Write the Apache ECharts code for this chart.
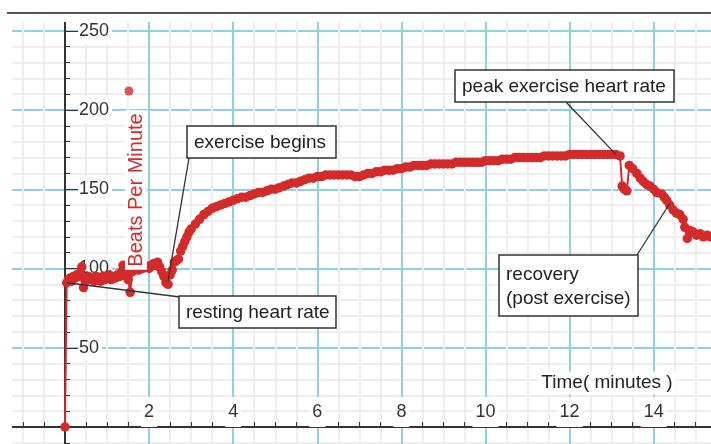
<!DOCTYPE html>
<html><head><meta charset="utf-8">
<script src="https://cdn.jsdelivr.net/npm/echarts@6/dist/echarts.min.js"></script>
<style>html,body{margin:0;padding:0;background:#fff}#c{width:711px;height:444px}</style>
</head><body><div id="c"></div>
<script>
// ---- data (time in minutes, heart rate in beats per minute) ----
const timeMin = [
  0, 0.04, 0.08, 0.12, 0.16, 0.2, 0.24, 0.28, 0.32, 0.36, 0.4, 0.44, 0.48, 0.52, 0.56, 0.6,
  0.65, 0.7, 0.75, 0.8, 0.85, 0.9, 0.95, 1.0, 1.05, 1.1, 1.15, 1.2, 1.25, 1.3, 1.35, 1.38,
  1.42, 1.46, 1.5, 1.55, 1.6, 1.65, 1.7, 1.75, 1.8, 1.85, 1.9, 1.95, 2.0, 2.05, 2.1, 2.15,
  2.2, 2.25, 2.3, 2.35, 2.4, 2.45, 2.5, 2.55, 2.6, 2.65, 2.7, 2.75, 2.8, 2.85, 2.9, 2.95,
  3.0, 3.1, 3.2, 3.3, 3.4, 3.5, 3.6, 3.7, 3.8, 3.9, 4.0, 4.1, 4.2, 4.3, 4.4, 4.5, 4.6, 4.7,
  4.8, 4.9, 5.0, 5.1, 5.2, 5.3, 5.4, 5.5, 5.6, 5.7, 5.8, 5.9, 6.0, 6.1, 6.2, 6.3, 6.4, 6.5,
  6.6, 6.7, 6.8, 6.9, 7.0, 7.1, 7.2, 7.3, 7.4, 7.5, 7.6, 7.7, 7.8, 7.9, 8.0, 8.1, 8.2, 8.3,
  8.4, 8.5, 8.6, 8.7, 8.8, 8.9, 9.0, 9.1, 9.2, 9.3, 9.4, 9.5, 9.6, 9.7, 9.8, 9.9, 10.0, 10.1,
  10.2, 10.3, 10.4, 10.5, 10.6, 10.7, 10.8, 10.9, 11.0, 11.1, 11.2, 11.3, 11.4, 11.5, 11.6,
  11.7, 11.8, 11.9, 12.0, 12.1, 12.2, 12.3, 12.4, 12.5, 12.6, 12.7, 12.8, 12.9, 13.0, 13.1,
  13.2, 13.25, 13.3, 13.36, 13.42, 13.5, 13.6, 13.68, 13.75, 13.83, 13.91, 14.0, 14.07,
  14.19, 14.25, 14.31, 14.38, 14.46, 14.54, 14.62, 14.7, 14.74, 14.8, 14.86, 14.94, 15.02,
  15.1, 15.18, 15.27, 15.35
];
const bpm = [
  0, 91, 93, 94, 92, 95, 94, 96, 95, 97, 101, 88, 92, 93, 95, 93,
  94, 92, 95, 94, 92, 95, 93, 94, 96, 93, 95, 94, 96, 95, 98, 102,
  97, 95, 93, 85, 98, 99, 100, 99, 101, 100, 102, 101, 100, 102, 103, 102,
  104, 101, 98, 95, 91, 90, 96, 99, 104, 105, 106, 111, 114, 117, 120, 123,
  125, 128, 131, 134, 136, 138, 139, 140, 141, 142, 143, 144, 145, 145, 146, 147, 148, 148,
  149, 150, 150, 151, 152, 153, 154, 154, 155, 156, 157, 157, 158, 158, 159, 159, 159, 159,
  159, 159, 159, 158, 158, 159, 160, 160, 161, 161, 162, 162, 162, 163, 163, 164, 164, 165,
  165, 165, 165, 166, 166, 166, 166, 166, 166, 167, 167, 167, 167, 167, 167, 167, 168, 168,
  168, 168, 169, 169, 169, 170, 170, 170, 170, 170, 170, 170, 171, 171, 171,
  171, 171, 171, 172, 172, 172, 172, 172, 172, 172, 172, 172, 172, 172, 172,
  171, 152, 150, 149, 165, 163, 160, 157, 155, 153, 152, 150, 148,
  147, 145, 143, 140, 137, 135, 134, 131, 126, 119, 124, 123, 121,
  122, 120, 121, 120
];
const spikeTime = [1.52];
const spikeBpm = [212];
const xTickLabels = [2, 4, 6, 8, 10, 12, 14];
const yTickLabels = [50, 100, 150, 200, 250];
const yAxisTitle = 'Beats Per Minute';
const xAxisTitle = 'Time( minutes )';
const notes = [
  { text: 'exercise begins', at: [2.45, 92] },
  { text: 'resting heart rate', at: [0.05, 91] },
  { text: 'peak exercise heart rate', at: [13.1, 172] },
  { text: 'recovery\n(post exercise)', at: [14.38, 141] }
];

// ---- layout / style ----
const RED = '#d42a2a';
const CYAN = '#8ad3df';
const MINOR = '#eeeeee';
const DARK = '#333333';
const FONT = '"Liberation Sans", Arial, sans-serif';
const boxes = [
  { x: 187, y: 126, w: 149, h: 32, corner: [189, 158] },
  { x: 179, y: 296, w: 157, h: 32, corner: [180, 297] },
  { x: 455, y: 70, w: 219, h: 32, corner: [566, 102] },
  { x: 499, y: 255, w: 139, h: 61, corner: [637, 255] }
];

const X_MIN = -2, X_MAX = 16, Y_MIN = -50, Y_MAX = 300;
const hidden = (min, max, gridIndex) => ({ type: 'value', gridIndex, min, max, show: false });

const chart = echarts.init(document.getElementById('c'), null, { renderer: 'canvas' });

chart.setOption({
  animation: false,
  backgroundColor: '#fff',
  grid: [
    // plotting grid (grid lines + data)
    { left: -19.1, right: -26.8, top: -48.5, bottom: -62.25, containLabel: false, outerBoundsMode: 'none' },
    // grid whose left edge is x = 0 (vertical axis line, ticks, labels)
    { left: 65, right: -26.8, top: -48.5, bottom: -62.25, containLabel: false, outerBoundsMode: 'none' },
    // grid whose bottom edge is y = 0 (horizontal axis line, ticks, labels)
    { left: -19.1, right: -26.8, top: -48.5, bottom: 17, containLabel: false, outerBoundsMode: 'none' }
  ],
  xAxis: [
    {
      type: 'value', gridIndex: 0, min: X_MIN, max: X_MAX, interval: 2,
      axisLine: { show: false }, axisTick: { show: false }, axisLabel: { show: false },
      splitLine: { show: true, lineStyle: { color: CYAN, width: 2 } },
      minorTick: { show: false, splitNumber: 4 },
      minorSplitLine: { show: true, lineStyle: { color: MINOR, width: 2 } }
    },
    hidden(0, X_MAX, 1),
    {
      type: 'value', gridIndex: 2, min: X_MIN, max: X_MAX, interval: 2, position: 'bottom',
      axisLine: { show: true, onZero: false, lineStyle: { color: DARK, width: 2 } },
      axisTick: { show: true, inside: true, length: 6, lineStyle: { color: DARK, width: 1 } },
      minorTick: { show: true, splitNumber: 4, length: 5, lineStyle: { color: DARK, width: 1 } },
      axisLabel: {
        inside: true, margin: 0, customValues: xTickLabels,
        fontSize: 18, fontFamily: FONT, color: DARK,
        backgroundColor: '#fff', padding: [6, 3, 6, 3]
      },
      splitLine: { show: false }
    }
  ],
  yAxis: [
    {
      type: 'value', gridIndex: 0, min: Y_MIN, max: Y_MAX, interval: 50,
      axisLine: { show: false }, axisTick: { show: false }, axisLabel: { show: false },
      splitLine: { show: true, lineStyle: { color: CYAN, width: 2 } },
      minorTick: { show: false, splitNumber: 5 },
      minorSplitLine: { show: true, lineStyle: { color: MINOR, width: 2 } }
    },
    {
      type: 'value', gridIndex: 1, min: Y_MIN, max: Y_MAX, interval: 50, position: 'left',
      axisLine: { show: true, onZero: false, lineStyle: { color: DARK, width: 2 } },
      axisTick: { show: true, inside: true, length: 13, lineStyle: { color: DARK, width: 1 } },
      minorTick: { show: true, splitNumber: 5, length: 5, lineStyle: { color: DARK, width: 1 } },
      axisLabel: {
        inside: true, margin: 13, customValues: yTickLabels,
        fontSize: 18, fontFamily: FONT, color: DARK,
        backgroundColor: '#fff', padding: [8, 3, 0, 1]
      },
      splitLine: { show: false }
    },
    hidden(0, Y_MAX, 2)
  ],
  series: [
    {
      type: 'line', xAxisIndex: 0, yAxisIndex: 0,
      data: timeMin.map((t, i) => [t, bpm[i]]),
      symbol: 'circle', symbolSize: 9.5, showSymbol: true,
      itemStyle: { color: RED },
      lineStyle: { color: RED, width: 2 },
      z: 3
    },
    {
      type: 'scatter', xAxisIndex: 0, yAxisIndex: 0,
      data: spikeTime.map((t, i) => [t, spikeBpm[i]]),
      symbol: 'circle', symbolSize: 9,
      itemStyle: { color: RED },
      z: 3
    }
  ]
});

const els = [
  { type: 'rect', z: 5, silent: true, shape: { x: 0, y: 0, width: 12, height: 444 }, style: { fill: '#fff' } },
  { type: 'rect', z: 5, silent: true, shape: { x: 0, y: 0, width: 711, height: 22 }, style: { fill: '#fff' } },
  { type: 'line', z: 6, silent: true, shape: { x1: 7, y1: 13, x2: 711, y2: 13 }, style: { stroke: '#555', lineWidth: 2 } },
  {
    type: 'text', z: 20, silent: true, x: 136, y: 190, rotation: Math.PI / 2,
    style: { text: yAxisTitle, fill: RED, font: '20px ' + FONT, align: 'center', verticalAlign: 'middle',
      backgroundColor: '#fff', padding: [1, 3] }
  },
  {
    type: 'text', z: 20, silent: true, x: 607, y: 383,
    style: { text: xAxisTitle, fill: '#222', font: '19px ' + FONT, align: 'center', verticalAlign: 'middle',
      backgroundColor: '#fff', padding: [2, 3] }
  }
];
notes.forEach((n, i) => {
  const b = boxes[i];
  const p = chart.convertToPixel({ xAxisIndex: 0, yAxisIndex: 0 }, n.at);
  els.push({ type: 'line', z: 19, silent: true,
    shape: { x1: b.corner[0], y1: b.corner[1], x2: p[0], y2: p[1] },
    style: { stroke: DARK, lineWidth: 1.3 } });
  els.push({ type: 'rect', z: 20, silent: true,
    shape: { x: b.x, y: b.y, width: b.w, height: b.h },
    style: { fill: '#fff', stroke: DARK, lineWidth: 1.5 } });
  els.push({ type: 'text', z: 21, silent: true, x: b.x + 7, y: b.y + b.h / 2 + 1,
    style: { text: n.text, fill: '#222', font: '19px ' + FONT, align: 'left', verticalAlign: 'middle', lineHeight: 24 } });
});
chart.setOption({ graphic: { elements: els } });
</script>
</body></html>
